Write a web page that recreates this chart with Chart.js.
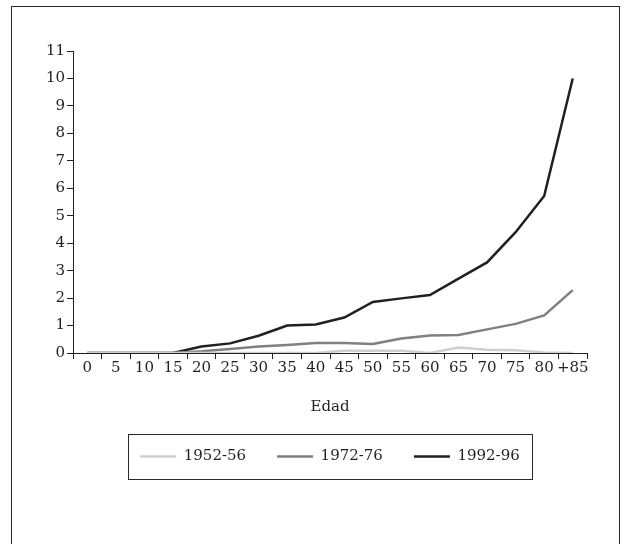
<!DOCTYPE html>
<html>
<head>
<meta charset="utf-8">
<script src="https://cdn.jsdelivr.net/npm/chart.js@4/dist/chart.umd.min.js"></script>
<style>
    html, body { margin: 0; padding: 0; background: #fff; }
    #wrap { position: relative; width: 623px; height: 544px; overflow: hidden; }
    #frame { position: absolute; left: 11px; top: 6px; width: 609px; height: 560px; border: 1px solid #2a2a2a; box-sizing: border-box; }
    #chart { position: absolute; left: 0; top: 0; }
</style>
</head>
<body>
<div id="wrap">
    <div id="frame"></div>
    <canvas id="chart" width="623" height="544"></canvas>
</div>
<script>
const ages = ["0", "5", "10", "15", "20", "25", "30", "35", "40", "45", "50", "55", "60", "65", "70", "75", "80", "+85"];
const serie1952 = [0, 0, 0, 0, 0, 0, 0, 0, 0, 0.08, 0.08, 0.08, 0, 0.2, 0.12, 0.1, 0.02, 0];
const serie1972 = [0, 0, 0, 0, 0.06, 0.15, 0.24, 0.29, 0.36, 0.36, 0.33, 0.53, 0.64, 0.66, 0.86, 1.06, 1.37, 2.29];
const serie1992 = [0, 0, 0, 0, 0.24, 0.35, 0.63, 1.0, 1.04, 1.29, 1.86, 1.99, 2.11, 2.71, 3.3, 4.4, 5.72, 10.0];
const yTicks = [0, 1, 2, 3, 4, 5, 6, 7, 8, 9, 10, 11];

const ink = "#231f20";
const serif = "'DejaVu Serif', 'Liberation Serif', serif";

// caja alrededor de la leyenda
const legendBox = {
    id: "legendBox",
    afterDraw(chart) {
        const boxes = chart.legend && chart.legend.legendHitBoxes;
        if (!boxes || !boxes.length) return;
        const first = boxes[0], last = boxes[boxes.length - 1];
        const left = first.left - 12;
        const right = last.left + last.width + 13;
        const mid = first.top + first.height / 2;
        const ctx = chart.ctx;
        ctx.save();
        ctx.strokeStyle = "#2a2a2a";
        ctx.lineWidth = 1;
        ctx.strokeRect(Math.round(left) + 0.5, Math.round(mid - 22.5) + 0.5, Math.round(right - left), 45);
        ctx.restore();
    }
};

function makeSet(label, data, color) {
    return {
        label: label,
        data: data,
        borderColor: color,
        backgroundColor: color,
        borderWidth: 2.5,
        pointRadius: 0,
        tension: 0,
        fill: false
    };
}

new Chart(document.getElementById("chart"), {
    type: "line",
    data: {
        labels: ages,
        datasets: [
            makeSet("1952-56", serie1952, "#cfcfcf"),
            makeSet("1972-76", serie1972, "#808080"),
            makeSet("1992-96", serie1992, ink)
        ]
    },
    options: {
        responsive: false,
        animation: false,
        events: [],
        layout: { padding: { top: 51, right: 36, bottom: 70, left: 0 } },
        plugins: {
            tooltip: { enabled: false },
            legend: {
                position: "bottom",
                fullSize: false,
                labels: {
                    color: ink,
                    font: { family: serif, size: 15 },
                    usePointStyle: true,
                    pointStyle: "line",
                    pointStyleWidth: 36,
                    padding: 31
                }
            }
        },
        scales: {
            x: {
                offset: true,
                afterFit(scale) { scale.height = 65; },
                grid: { offset: true, drawOnChartArea: false, drawTicks: true, tickLength: 6, color: ink },
                border: { display: true, color: ink, width: 1 },
                ticks: { color: ink, font: { family: serif, size: 15 }, padding: 0, maxRotation: 0, autoSkip: false },
                title: { display: true, text: "Edad", color: ink, font: { family: serif, size: 15 }, padding: { top: 14, bottom: 2 } }
            },
            y: {
                min: 0,
                max: 11,
                afterFit(scale) { scale.width = 73; },
                afterBuildTicks(scale) { scale.ticks = yTicks.map(v => ({ value: v })); },
                grid: { drawOnChartArea: false, drawTicks: true, tickLength: 6, color: ink },
                border: { display: true, color: ink, width: 1 },
                ticks: { color: ink, font: { family: serif, size: 15 }, padding: 2 }
            }
        }
    },
    plugins: [legendBox]
});
</script>
</body>
</html>
